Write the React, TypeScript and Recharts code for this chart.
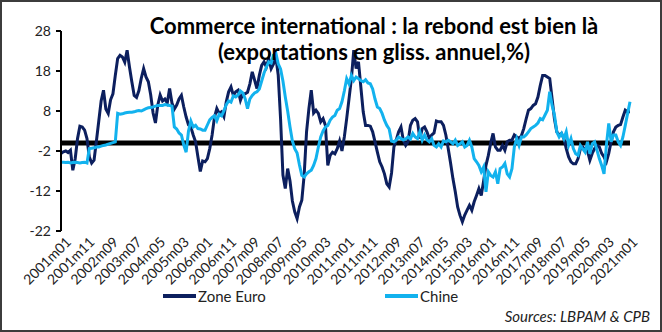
import { LineChart, Line, XAxis, YAxis, ReferenceLine } from 'recharts';

// glissement annuel des exportations, %, mensuel 2001m01 -> 2021m02
const zoneEuro = [
  -2.6, -2.2, -2.0, -2.4, -1.8, -6.8, -4.0, 1.1, 4.2, 4.0,
  3.2, 1.1, -3.5, -5.0, -4.3, 0.5, 5.5, 10.5, 13.2, 8.5,
  7.4, 10.8, 12.3, 16.9, 21.1, 21.9, 21.5, 20.2, 23.2, 19.0,
  15.3, 11.9, 11.4, 13.1, 16.2, 18.6, 16.5, 15.3, 12.0, 7.5,
  5.0, 9.5, 12.0, 10.5, 11.0, 10.0, 13.6, 10.0, 8.5, 9.5,
  11.0, 11.9, 9.0, 6.5, 4.5, 4.0, 2.0, 0.3, -3.5, -7.1,
  -4.5, -4.7, -3.9, -1.4, 2.0, 6.4, 8.6, 7.4, 7.8, 6.6,
  10.3, 12.8, 14.0, 11.9, 12.8, 13.2, 10.7, 12.3, 12.3, 12.7,
  14.8, 17.8, 15.7, 13.6, 16.9, 19.4, 20.3, 19.0, 21.1, 18.6,
  19.8, 21.5, 17.0, 6.0, -8.0, -11.4, -6.4, -9.5, -14.5, -17.2,
  -18.9, -16.0, -14.3, -8.0, 2.8, 8.6, 13.2, 7.5, 8.2, 7.4,
  5.3, 6.1, 4.4, -5.6, -3.1, -2.3, -2.7, -1.4, 0.5, -2.0,
  1.5, 6.1, 11.1, 16.1, 23.2, 18.6, 20.3, 14.0, 7.8, 4.4,
  4.4, 4.2, 2.8, 0.3, -2.3, -4.7, -6.0, -7.7, -10.2, -11.0,
  -7.5, -1.0, 0.8, 2.8, 4.0, 0.7, -0.6, 0.3, 4.4, 5.7,
  6.1, 5.3, 1.1, 3.6, 4.0, 2.8, 1.1, 2.0, 2.5, 5.5,
  5.3, 5.3, 4.4, 2.0, -1.4, -5.0, -8.9, -12.2, -16.0, -18.1,
  -19.7, -18.0, -16.8, -15.6, -16.8, -14.7, -13.1, -11.4, -13.1, -9.5,
  -5.6, -3.1, 0.0, 2.4, -1.0, -1.8, -1.8, -0.6, -1.8, 0.3,
  0.7, 0.7, 2.0, 1.5, 1.1, 1.8, 3.6, 6.0, 8.2, 8.6,
  9.4, 9.8, 11.5, 14.4, 16.9, 16.9, 16.5, 16.1, 11.1, 6.0,
  2.8, 2.0, 2.4, 1.1, -1.4, -3.5, -4.7, -5.2, -5.2, -3.9,
  -1.4, -1.0, -1.8, -2.0, -4.3, -2.6, -1.4, -0.6, -1.0, -2.6,
  -3.5, -4.7, -2.6, 0.3, 2.8, 4.0, 4.4, 4.6, 6.5, 8.2,
  7.8, 7.8,
];

const chine = [
  -4.8, -4.8, -4.9, -4.8, -5.0, -4.9, -4.8, -4.9, -5.0, -4.9,
  -4.8, -5.0, -1.4, -1.3, -1.2, -1.0, -1.0, -0.8, -0.6, -0.5,
  -0.3, -0.1, 0.1, 0.3, 7.4, 7.2, 7.3, 7.5, 7.6, 7.7,
  7.7, 7.8, 8.0, 8.1, 8.0, 8.3, 8.6, 8.8, 8.9, 9.0,
  9.2, 9.4, 9.4, 9.4, 9.6, 9.5, 9.4, 9.2, 4.0, 3.5,
  2.5, 2.0, -0.5, -2.3, 3.0, 5.5, 4.0, 4.4, 3.6, 3.5,
  3.2, 3.2, 4.5, 5.8, 6.4, 6.8, 5.6, 7.2, 6.8, 8.0,
  9.6, 10.5, 10.2, 11.8, 11.5, 12.0, 13.0, 12.5, 11.1, 8.6,
  11.0, 11.9, 12.5, 12.8, 13.5, 15.5, 17.5, 19.0, 20.3, 20.0,
  22.0, 22.5, 19.8, 18.5, 15.5, 11.5, 8.0, 4.0, 0.5, -1.4,
  -2.5, -5.5, -8.1, -8.5, -7.7, -7.2, -6.8, -5.6, -3.9, -1.0,
  1.5, 3.0, 4.0, 4.4, 5.7, 6.5, 6.9, 8.2, 8.6, 10.3,
  13.0, 16.1, 14.8, 16.9, 15.6, 16.5, 16.1, 15.6, 15.3, 15.8,
  15.0, 14.8, 13.5, 11.0, 9.0, 8.6, 7.4, 5.7, 4.4, 3.5,
  0.5, 0.3, 0.7, 1.5, 1.1, 0.8, 1.0, 1.5, 1.0, 2.4,
  1.5, 1.1, 2.8, 0.7, 2.0, 0.8, 0.3, 1.1, -0.6, -1.0,
  -0.2, -1.0, 0.5, 0.3, 0.7, 0.3, -0.2, 0.7, -0.6, -0.2,
  0.3, -1.0, -0.6, 0.7, -1.0, -3.9, -4.7, -5.6, -7.2, -6.0,
  -12.2, -7.2, -8.1, -8.5, -7.2, -10.2, -6.4, -6.0, -5.1, -7.7,
  -8.5, -6.4, -1.0, 1.1, -0.6, 1.5, 1.5, 2.0, 2.8, 3.6,
  4.0, 4.4, 5.0, 6.1, 5.8, 7.0, 8.2, 12.8, 9.4, 7.0,
  2.8, 1.5, 2.4, 1.1, 2.8, -0.6, 1.1, -1.4, -2.7, -3.1,
  -0.6, -1.5, -2.3, 0.3, -2.7, -0.2, 0.3, -1.8, -3.9, -5.6,
  -7.7, -0.6, 4.9, 0.3, 2.0, 2.0, 0.3, -0.6, 1.5, 4.4,
  7.4, 10.3,
];

const yTicks = [-22, -12, -2, 8, 18, 28];

function monthLabel(i: number) {
  const year = 2001 + Math.floor(i / 12);
  const m = (i % 12) + 1;
  return `${year}m${m < 10 ? '0' + m : m}`;
}

const months = zoneEuro.map((_, i) => monthLabel(i));

const data = months.map((month, i) => ({
  month,
  zoneEuro: zoneEuro[i],
  chine: chine[i],
}));

const FONT = 'Lato, "Open Sans", sans-serif';
const NAVY = '#0c1f5e';
const CYAN = '#12b2ee';

function MonthTick({ x, y, payload }: any) {
  return (
    <text
      x={x + 4}
      y={y + 3}
      transform={`rotate(-45 ${x + 4} ${y + 3})`}
      textAnchor="end"
      dy="0.7em"
      fontSize={14}
      fontFamily={FONT}
      fill="#222"
    >
      {payload.value}
    </text>
  );
}

function LegendItem({ left, color, label }: { left: number; color: string; label: string }) {
  return (
    <div style={{ position: 'absolute', left, top: 285, display: 'flex', alignItems: 'center' }}>
      <div style={{ width: 33, height: 4, background: color }} />
      <span style={{ fontSize: 15, fontFamily: FONT, color: '#222', marginLeft: 2 }}>{label}</span>
    </div>
  );
}

export default function App() {
  return (
    <div
      style={{
        position: 'absolute',
        left: 0,
        top: 0,
        width: 662,
        height: 332,
        boxSizing: 'border-box',
        border: '2px solid #3c3c3c',
        background: '#fff',
        overflow: 'hidden',
      }}
    >
      <div style={{ position: 'absolute', left: -2, top: -2 }}>
        <LineChart width={662} height={332} data={data} margin={{ top: 31, right: 32, left: 0, bottom: 0 }}>
          <XAxis
            dataKey="month"
            interval={9}
            axisLine={false}
            tickLine={false}
            tickSize={0}
            height={101}
            tick={<MonthTick />}
          />
          <YAxis
            domain={[-22, 28]}
            ticks={yTicks}
            width={61}
            axisLine={{ stroke: '#000', strokeWidth: 2 }}
            tickLine={{ stroke: '#000', strokeWidth: 2 }}
            tickSize={5}
            tickMargin={5}
            tick={{ fontSize: 14, fontFamily: FONT, fill: '#222' }}
          />
          <ReferenceLine y={0} stroke="#000" strokeWidth={5} />
          <Line
            type="linear"
            dataKey="zoneEuro"
            stroke={NAVY}
            strokeWidth={3}
            dot={false}
            isAnimationActive={false}
          />
          <Line
            type="linear"
            dataKey="chine"
            stroke={CYAN}
            strokeWidth={3}
            dot={false}
            isAnimationActive={false}
          />
        </LineChart>
      </div>
      <div
        style={{
          position: 'absolute',
          left: 0,
          width: 744,
          top: 11,
          textAlign: 'center',
          fontFamily: FONT,
          fontWeight: 700,
          fontSize: 22,
          lineHeight: '26px',
          color: '#000',
        }}
      >
        Commerce international : la rebond est bien là
        <br />
        (exportations en gliss. annuel,%)
      </div>
      <LegendItem left={161} color={NAVY} label="Zone Euro" />
      <LegendItem left={383} color={CYAN} label="Chine" />
      <div
        style={{
          position: 'absolute',
          right: 10,
          top: 305,
          fontFamily: FONT,
          fontStyle: 'italic',
          fontSize: 15,
          color: '#222',
        }}
      >
        Sources: LBPAM &amp; CPB
      </div>
    </div>
  );
}
